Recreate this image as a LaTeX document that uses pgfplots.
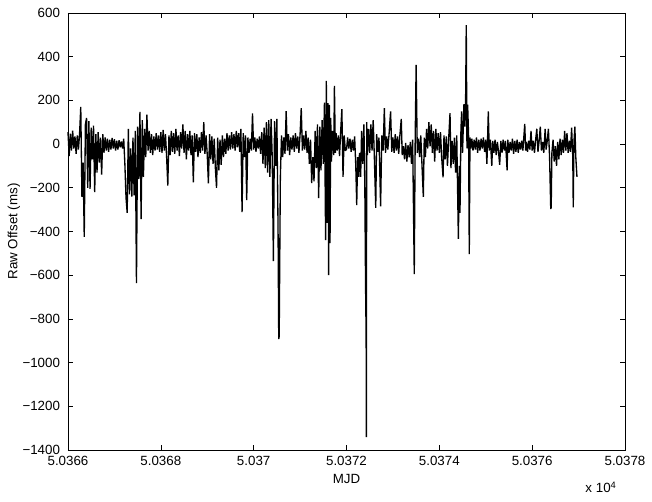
\documentclass[border=0pt]{standalone}
\usepackage{fontspec}
\setmainfont{Liberation Sans}
\usepackage{pgfplots}
\usepackage{pgfplotstable}
\pgfplotsset{compat=1.18}
\usetikzlibrary{calc}

% t = MJD - 50366 (days), raw offset in ms
\pgfplotstableread[row sep=\\]{
t y\\
0.000 55\\ 0.025 -55\\ 0.050 48\\ 0.075 -30\\ 0.100 62\\ 0.125 -20\\ 0.150 35\\ 0.175 -45\\ 0.200 40\\ 0.225 -25\\
0.250 50\\ 0.275 170\\ 0.300 -242\\ 0.325 -85\\ 0.350 -425\\ 0.375 90\\ 0.400 120\\ 0.425 -200\\ 0.450 105\\ 0.475 -205\\
0.500 75\\ 0.525 -70\\ 0.550 85\\ 0.575 -220\\ 0.600 45\\ 0.625 -130\\ 0.650 55\\ 0.675 -85\\ 0.700 30\\ 0.725 -140\\
0.750 45\\ 0.775 -40\\ 0.800 30\\ 0.825 -30\\ 0.850 25\\ 0.875 -35\\ 0.900 20\\ 0.925 -25\\ 0.950 28\\ 0.975 -20\\
1.000 22\\ 1.025 -30\\ 1.050 15\\ 1.075 -25\\ 1.100 18\\ 1.125 -15\\ 1.150 12\\ 1.175 -20\\ 1.200 25\\ 1.225 -90\\
1.250 -245\\ 1.275 -315\\ 1.300 70\\ 1.325 -230\\ 1.350 -20\\ 1.375 -240\\ 1.400 30\\ 1.425 -235\\ 1.450 60\\ 1.475 -636\\
1.500 80\\ 1.525 -160\\ 1.550 147\\ 1.575 -343\\ 1.600 110\\ 1.625 -150\\ 1.650 70\\ 1.675 -60\\ 1.700 135\\ 1.725 -30\\
1.750 60\\ 1.775 -40\\ 1.800 45\\ 1.825 -50\\ 1.850 35\\ 1.875 -30\\ 1.900 50\\ 1.925 -25\\ 1.950 40\\ 1.975 -35\\
2.000 55\\ 2.025 -40\\ 2.050 65\\ 2.075 -30\\ 2.100 45\\ 2.125 -60\\ 2.150 -190\\ 2.175 40\\ 2.200 -50\\ 2.225 60\\
2.250 -35\\ 2.275 50\\ 2.300 -45\\ 2.325 70\\ 2.350 -30\\ 2.375 40\\ 2.400 -55\\ 2.425 55\\ 2.450 -20\\ 2.475 90\\
2.500 -40\\ 2.525 60\\ 2.550 -70\\ 2.575 45\\ 2.600 -30\\ 2.625 60\\ 2.650 -50\\ 2.675 40\\ 2.700 -175\\ 2.725 50\\
2.750 -35\\ 2.775 45\\ 2.800 -60\\ 2.825 30\\ 2.850 -40\\ 2.875 55\\ 2.900 -30\\ 2.925 100\\ 2.950 -45\\ 2.975 40\\
3.000 -50\\ 3.025 -180\\ 3.050 45\\ 3.075 -70\\ 3.100 35\\ 3.125 -90\\ 3.150 25\\ 3.175 -110\\ 3.200 -200\\ 3.225 30\\
3.250 -120\\ 3.275 20\\ 3.300 -95\\ 3.325 40\\ 3.350 -60\\ 3.375 25\\ 3.400 -45\\ 3.425 50\\ 3.450 -30\\ 3.475 40\\
3.500 -25\\ 3.525 55\\ 3.550 -20\\ 3.575 45\\ 3.600 -30\\ 3.625 60\\ 3.650 -15\\ 3.675 50\\ 3.700 -35\\ 3.725 70\\
3.750 -311\\ 3.775 50\\ 3.800 -60\\ 3.825 40\\ 3.850 -256\\ 3.875 30\\ 3.900 -40\\ 3.925 25\\ 3.950 -30\\ 3.975 140\\
4.000 -25\\ 4.025 30\\ 4.050 -35\\ 4.075 25\\ 4.100 -20\\ 4.125 35\\ 4.150 -45\\ 4.175 55\\ 4.200 -90\\ 4.225 75\\
4.250 -110\\ 4.275 100\\ 4.300 -130\\ 4.325 110\\ 4.350 -150\\ 4.375 115\\ 4.400 -60\\ 4.425 -535\\ 4.450 105\\ 4.475 -100\\
4.500 115\\ 4.525 -380\\ 4.540 -892\\ 4.550 -880\\ 4.575 -150\\ 4.600 40\\ 4.625 -60\\ 4.650 30\\ 4.675 -45\\ 4.700 151\\
4.725 -30\\ 4.750 45\\ 4.775 -50\\ 4.800 30\\ 4.825 -25\\ 4.850 40\\ 4.875 -35\\ 4.900 50\\ 4.925 -20\\ 4.950 35\\ 4.975 -40\\
5.000 45\\ 5.025 165\\ 5.050 -30\\ 5.075 40\\ 5.100 -25\\ 5.125 60\\ 5.150 -40\\ 5.175 30\\ 5.200 -90\\ 5.225 20\\
5.250 -178\\ 5.275 -60\\ 5.300 -170\\ 5.325 60\\ 5.350 -110\\ 5.375 90\\ 5.400 -247\\ 5.425 80\\ 5.450 -120\\ 5.475 110\\
5.500 -90\\ 5.525 190\\ 5.550 -439\\ 5.565 289\\ 5.580 -361\\ 5.600 188\\ 5.615 -600\\ 5.630 180\\ 5.645 -453\\ 5.660 120\\
5.675 -80\\ 5.700 60\\ 5.725 -50\\ 5.740 266\\ 5.760 -40\\ 5.775 50\\ 5.800 -30\\ 5.825 40\\ 5.850 -55\\ 5.875 60\\
5.900 160\\ 5.925 -150\\ 5.950 40\\ 5.975 -30\\
6.000 -25\\ 6.025 30\\ 6.050 -20\\ 6.075 25\\ 6.100 -35\\ 6.125 20\\ 6.150 -30\\ 6.175 35\\ 6.200 -100\\ 6.220 -279\\
6.240 -60\\ 6.260 -150\\ 6.280 -40\\ 6.305 -150\\ 6.325 60\\ 6.350 -90\\ 6.375 90\\ 6.395 -200\\ 6.410 -631\\ 6.418 -787\\
6.422 -787\\ 6.428 -1341\\ 6.435 100\\ 6.450 -50\\ 6.475 70\\ 6.500 -40\\ 6.525 90\\ 6.550 -30\\ 6.575 110\\ 6.600 -60\\
6.630 -292\\ 6.650 45\\ 6.675 -35\\ 6.700 30\\ 6.735 -285\\ 6.760 40\\ 6.790 -30\\ 6.815 165\\ 6.840 -40\\ 6.865 35\\
6.890 -25\\ 6.915 40\\ 6.950 150\\ 6.975 -35\\
7.000 30\\ 7.025 -40\\ 7.050 45\\ 7.075 -30\\ 7.100 35\\ 7.125 -45\\ 7.150 40\\ 7.180 115\\ 7.200 -50\\ 7.225 -10\\
7.250 -70\\ 7.275 5\\ 7.300 -80\\ 7.325 -5\\ 7.350 -60\\ 7.375 10\\ 7.400 -90\\ 7.425 20\\ 7.460 -595\\ 7.480 30\\
7.500 362\\ 7.525 -40\\ 7.550 25\\ 7.575 -60\\ 7.600 40\\ 7.625 -90\\ 7.655 -242\\ 7.675 30\\ 7.700 -60\\ 7.725 70\\
7.750 -20\\ 7.775 100\\ 7.800 -10\\ 7.825 90\\ 7.850 -40\\ 7.875 60\\ 7.900 -80\\ 7.925 70\\ 7.950 -30\\ 7.975 50\\
8.000 -40\\ 8.025 55\\ 8.050 -60\\ 8.080 -152\\ 8.100 40\\ 8.125 -70\\ 8.150 35\\ 8.175 -100\\ 8.200 20\\ 8.230 142\\
8.250 -110\\ 8.275 15\\ 8.300 -90\\ 8.325 30\\ 8.350 -130\\ 8.375 40\\ 8.410 -434\\ 8.430 -100\\ 8.445 -315\\ 8.465 60\\
8.480 150\\ 8.500 -40\\ 8.530 183\\ 8.550 80\\ 8.565 175\\ 8.580 545\\ 8.595 -20\\ 8.610 180\\ 8.630 40\\ 8.645 -503\\
8.660 30\\ 8.680 -20\\ 8.700 25\\ 8.725 -30\\ 8.750 20\\ 8.775 -25\\ 8.800 30\\ 8.825 -40\\ 8.850 20\\ 8.875 -30\\
8.900 25\\ 8.925 -20\\ 8.950 30\\ 8.975 -35\\
9.000 20\\ 9.025 -90\\ 9.055 150\\ 9.075 -30\\ 9.100 20\\ 9.130 -100\\ 9.150 15\\ 9.175 -40\\ 9.200 20\\ 9.225 -50\\
9.250 10\\ 9.275 -35\\ 9.300 -95\\ 9.325 15\\ 9.350 -40\\ 9.375 20\\ 9.400 -30\\ 9.425 15\\ 9.460 -120\\ 9.475 20\\
9.500 -40\\ 9.525 10\\ 9.550 -30\\ 9.575 25\\ 9.600 -45\\ 9.625 15\\ 9.650 -35\\ 9.675 20\\ 9.700 -40\\ 9.725 10\\
9.750 -25\\ 9.775 15\\ 9.800 -30\\ 9.840 92\\ 9.860 -30\\ 9.875 10\\ 9.900 -35\\ 9.925 15\\ 9.950 -25\\ 9.975 60\\
10.000 -30\\ 10.025 15\\ 10.050 -40\\ 10.075 20\\ 10.100 70\\ 10.125 -35\\ 10.150 15\\ 10.175 80\\ 10.200 -30\\ 10.225 10\\
10.250 -40\\ 10.280 70\\ 10.300 -25\\ 10.325 15\\ 10.350 70\\ 10.375 -60\\ 10.400 -297\\ 10.410 -290\\ 10.425 -40\\ 10.450 20\\
10.475 -80\\ 10.500 -10\\ 10.525 -100\\ 10.550 10\\ 10.575 -70\\ 10.600 25\\ 10.625 -50\\ 10.650 20\\ 10.675 -40\\ 10.700 60\\
10.725 -30\\ 10.750 50\\ 10.775 -40\\ 10.800 15\\ 10.825 -35\\ 10.850 75\\ 10.875 -60\\ 10.885 -290\\ 10.900 10\\ 10.920 80\\
10.940 -60\\ 10.965 -150\\
}\offsetdata

\begin{document}
\fontsize{10}{12}\selectfont
\begin{tikzpicture}
\begin{axis}[
    width=417.75pt, height=327.75pt, scale only axis,
    xmin=0, xmax=12, ymin=-1400, ymax=600,
    xtick={0,2,4,6,8,10,12},
    xticklabels={5.0366,5.0368,5.037,5.0372,5.0374,5.0376,5.0378},
    ytick={-1400,-1200,-1000,-800,-600,-400,-200,0,200,400,600},
    yticklabels={−1400,−1200,−1000,−800,−600,−400,−200,0,200,400,600},
    tick align=inside, major tick length=4pt,
    tick style={line width=0.5pt, black},
    axis line style={line width=0.5pt},
    yticklabel style={xshift=-2.5pt},
    xticklabel style={yshift=-1pt},
    xlabel={MJD}, ylabel={Raw Offset (ms)},
    xlabel style={at={(axis description cs:0.5,0)}, anchor=center, yshift=-21.75pt},
    ylabel style={at={(axis description cs:-0.097,0.5)}, anchor=center},
    clip=false,
]
\addplot[black, line width=1pt, line join=miter, miter limit=2] table[x=t, y=y] {\offsetdata};
\coordinate (SW) at (rel axis cs:0,0);
\coordinate (NE) at (rel axis cs:1,1);
\node[anchor=center] at ($(rel axis cs:1,0)+(-18pt,-28pt)$) {x 10\textsuperscript{4}};
\end{axis}
\path ($(SW)+(-51pt,-39pt)$) rectangle ($(NE)+(20.25pt,9.75pt)$);
\end{tikzpicture}
\end{document}
